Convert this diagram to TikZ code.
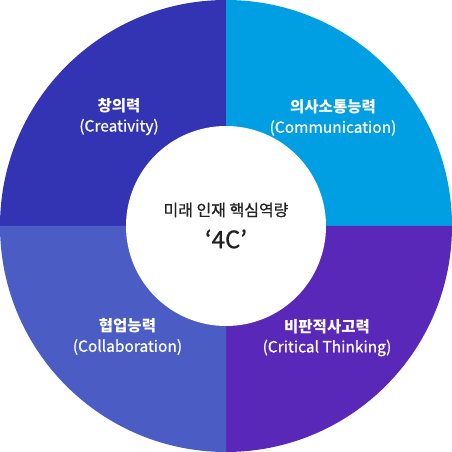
\documentclass[tikz,border=0pt]{standalone}
\usepackage{fontspec}
\setmainfont{Noto Sans CJK KR}
\newfontfamily\medfont[FakeBold=0.8]{Noto Sans CJK KR}
\definecolor{cTL}{RGB}{50,52,180}
\definecolor{cTR}{RGB}{0,158,227}
\definecolor{cBR}{RGB}{90,40,185}
\definecolor{cBL}{RGB}{75,93,196}
\definecolor{ctext}{RGB}{34,34,34}
\tikzset{
  kr/.style={text=white,font=\fontsize{15.5}{18}\selectfont\bfseries,inner sep=0pt},
  en/.style={text=white,font=\fontsize{15.5}{18}\medfont,inner sep=0pt},
}
\begin{document}
\begin{tikzpicture}[x=1pt,y=1pt]
\useasboundingbox (-226,-226) rectangle (226,226);
\coordinate (o) at (0,0);
\fill[cTL] (o) -- (180:226) arc[start angle=180,end angle=90,radius=226] -- cycle;
\fill[cTR] (o) -- (90:226) arc[start angle=90,end angle=0,radius=226] -- cycle;
\fill[cBR] (o) -- (0:226) arc[start angle=0,end angle=-90,radius=226] -- cycle;
\fill[cBL] (o) -- (-90:226) arc[start angle=-90,end angle=-180,radius=226] -- cycle;
\fill[white] (o) circle[radius=100];
\node[kr] (tlk) at (-107,120) {창의력};
\node[en] (tle) at (-107,99) {(Creativity)};
\node[kr] (trk) at (107,119) {의사소통능력};
\node[en] (tre) at (107,98) {(Communication)};
\node[kr] (blk) at (-98.5,-100) {협업능력};
\node[en] (ble) at (-98.5,-121) {(Collaboration)};
\node[kr] (brk) at (101,-101) {비판적사고력};
\node[en] (bre) at (101,-122) {(Critical Thinking)};
\node[text=ctext,font=\fontsize{16}{19}\medfont,inner sep=0pt] (ck) at (0,16) {미래 인재 핵심역량};
\node[text=ctext,font=\fontsize{24}{27}\medfont,inner sep=0pt] (c4) at (0,-13) {‘4C’};
\end{tikzpicture}
\end{document}
